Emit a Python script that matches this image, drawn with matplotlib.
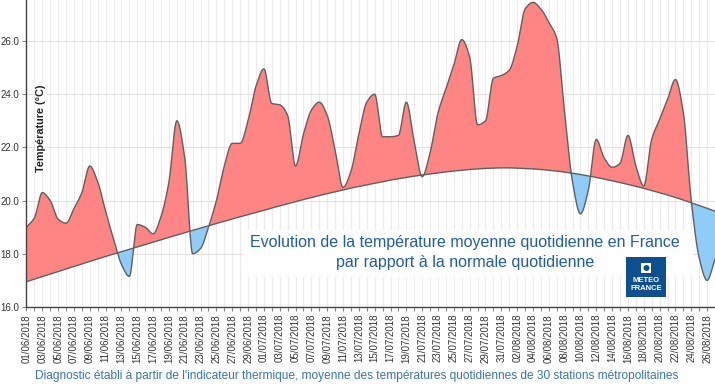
import numpy as np
import pandas as pd
import matplotlib
matplotlib.use('Agg')
import matplotlib.pyplot as plt
from matplotlib.patches import Rectangle, Ellipse

plt.rcParams['font.family'] = ['Liberation Sans', 'DejaVu Sans']

# daily data, 01/06/2018 -> 27/08/2018
dates = pd.date_range('2018-06-01', periods=88)
temp = [19.0, 19.35, 20.3, 20.0, 19.3, 19.15, 19.7, 20.3, 21.3, 20.7,
        19.6, 18.55, 17.6, 17.15, 19.1, 19.0, 18.75, 19.4, 20.7, 23.0,
        21.6, 18.0, 18.2, 19.0, 20.0, 21.3, 22.15, 22.15, 23.0, 24.3,
        24.95, 23.65, 23.6, 23.2, 21.3, 22.5, 23.4, 23.7, 23.2, 21.9,
        20.5, 21.1, 22.5, 23.7, 24.0, 22.4, 22.4, 22.45, 23.7, 22.2,
        20.9, 21.8, 23.3, 24.2, 25.1, 26.05, 25.4, 22.85, 23.0, 24.6,
        24.7, 24.9, 25.8, 27.2, 27.45, 27.2, 26.7, 26.1, 23.3, 20.7,
        19.5, 20.4, 22.3, 21.6, 21.25, 21.4, 22.45, 21.3, 20.55, 22.3,
        23.05, 23.8, 24.55, 23.3, 20.0, 17.85, 17.0, 17.8]
normale = [16.95, 17.05, 17.14, 17.24, 17.33, 17.43, 17.52, 17.62, 17.71, 17.81,
           17.90, 17.99, 18.08, 18.17, 18.26, 18.35, 18.44, 18.53, 18.62, 18.71,
           18.80, 18.88, 18.97, 19.05, 19.14, 19.22, 19.31, 19.39, 19.47, 19.55,
           19.63, 19.72, 19.80, 19.88, 19.96, 20.04, 20.11, 20.19, 20.26, 20.33,
           20.40, 20.47, 20.53, 20.59, 20.65, 20.71, 20.77, 20.82, 20.87, 20.92,
           20.96, 21.00, 21.04, 21.08, 21.11, 21.14, 21.17, 21.19, 21.21, 21.22,
           21.23, 21.23, 21.22, 21.21, 21.19, 21.17, 21.14, 21.11, 21.07, 21.03,
           20.98, 20.93, 20.87, 20.81, 20.75, 20.68, 20.61, 20.54, 20.46, 20.38,
           20.30, 20.21, 20.12, 20.02, 19.92, 19.82, 19.71, 19.60]
yticks = [16, 18, 20, 22, 24, 26]


def pchip(x, y, xs):
    # monotone cubic, flat at the extremes (like a highcharts spline)
    x = np.asarray(x, float)
    y = np.asarray(y, float)
    h = np.diff(x)
    delta = np.diff(y) / h
    d = np.zeros_like(y)
    for k in range(1, len(y) - 1):
        if delta[k - 1] * delta[k] > 0:
            w1 = 2 * h[k] + h[k - 1]
            w2 = h[k] + 2 * h[k - 1]
            d[k] = (w1 + w2) / (w1 / delta[k - 1] + w2 / delta[k])
    d[0] = delta[0]
    d[-1] = delta[-1]
    i = np.clip(np.searchsorted(x, xs) - 1, 0, len(x) - 2)
    t = (xs - x[i]) / h[i]
    h00 = 2 * t**3 - 3 * t**2 + 1
    h10 = t**3 - 2 * t**2 + t
    h01 = -2 * t**3 + 3 * t**2
    h11 = t**3 - t**2
    return h00 * y[i] + h10 * h[i] * d[i] + h01 * y[i + 1] + h11 * h[i] * d[i + 1]


days = np.arange(len(temp))
xs = np.linspace(0, days[-1], 4000)
t_s = pchip(days, temp, xs)
n_s = pchip(days, normale, xs)

W, H = 715, 384
fig = plt.figure(figsize=(W / 100, H / 100), dpi=100)
ax = fig.add_axes([26 / W, 1 - 307 / H, 689 / W, 307 / H])
ax.set_xlim(-0.06, 86.6)
ax.set_ylim(16, 27.54)

for d in days:
    ax.axvline(d, color='#ebebeb', lw=0.8, zorder=0)
for v in yticks:
    ax.axhline(v, color='#e2e2e2', lw=0.8, zorder=0)

ax.fill_between(xs, t_s, n_s, where=t_s >= n_s, interpolate=True,
                color='#ff8585', lw=0, zorder=2)
ax.fill_between(xs, t_s, n_s, where=t_s < n_s, interpolate=True,
                color='#8fcdf8', lw=0, zorder=2)
ax.plot(xs, t_s, color='#606060', lw=1, zorder=3)
ax.plot(xs, n_s, color='#606060', lw=1, zorder=3)

for s in ['top', 'right']:
    ax.spines[s].set_visible(False)
for s in ['left', 'bottom']:
    ax.spines[s].set_color('#444444')
    ax.spines[s].set_linewidth(1)
    ax.spines[s].set_zorder(4)

ax.set_xticks(days[::2])
ax.set_xticklabels(dates.strftime('%d/%m/%Y')[::2], rotation=90, fontsize=7, color='#333333')
ax.set_xticks(days, minor=True)
ax.set_yticks(yticks)
ax.set_yticklabels([f'{v:.1f}' for v in yticks], fontsize=7, color='#333333')
ax.tick_params(axis='both', which='both', length=3, width=0.8, color='#888888', pad=2)

ax.text((41 - 26) / 689, 1 - 128 / 307, 'Température (°C)', transform=ax.transAxes,
        rotation=90, ha='center', va='center', fontsize=7.8, fontweight='bold',
        color='#222222', zorder=5,
        bbox=dict(facecolor='white', edgecolor='none', pad=1))

# title box
fig.add_artist(Rectangle((243 / W, 1 - 277 / H), 450 / W, 47 / H,
                         transform=fig.transFigure, fc='white', ec='none', zorder=1))
fig.text(465 / W, 1 - 243 / H, 'Evolution de la température moyenne quotidienne en France',
         ha='center', va='center', fontsize=11.5, color='#1f5ca6', zorder=2)
fig.text(465 / W, 1 - 262 / H, 'par rapport à la normale quotidienne',
         ha='center', va='center', fontsize=11.5, color='#1f5ca6', zorder=2)

# logo
fig.add_artist(Rectangle((626 / W, 1 - 297 / H), 40 / W, 40 / H,
                         transform=fig.transFigure, fc='#0e4f8f', ec='none', zorder=2))
fig.add_artist(Rectangle((641 / W, 1 - 273 / H), 10 / W, 10 / H,
                         transform=fig.transFigure, fc='white', ec='none', zorder=3))
fig.add_artist(Ellipse((646.5 / W, 1 - 268 / H), 6 / W, 6 / H,
                       transform=fig.transFigure, fc='#0e4f8f', ec='none', zorder=4))
fig.text(646 / W, 1 - 281 / H, 'METEO', ha='center', va='center', fontsize=5.5,
         fontweight='bold', color='white', zorder=5)
fig.text(646 / W, 1 - 289 / H, 'FRANCE', ha='center', va='center', fontsize=5.5,
         fontweight='bold', color='white', zorder=5)

fig.text(357 / W, 1 - 376 / H,
         "Diagnostic établi à partir de l'indicateur thermique, moyenne des températures "
         "quotidiennes de 30 stations métropolitaines",
         ha='center', va='center', fontsize=8.6, color='#3a72b8')

fig.savefig('out.png', dpi=100)
